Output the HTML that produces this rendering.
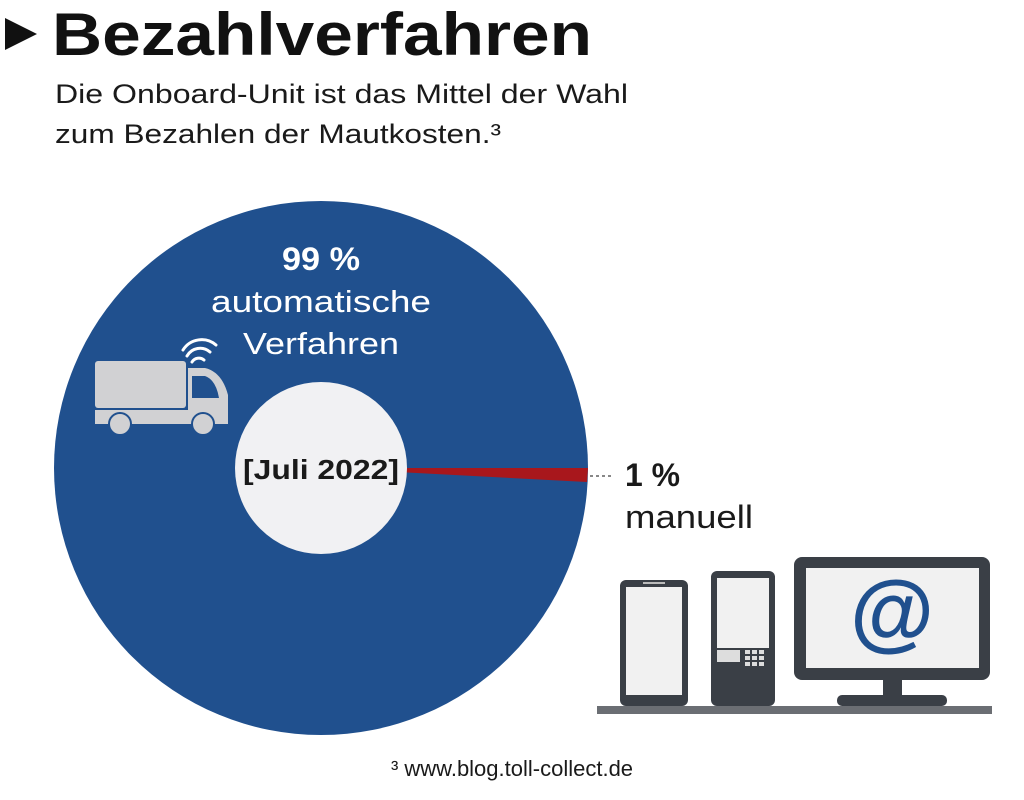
<!DOCTYPE html>
<html><head><meta charset="utf-8"><style>
body{margin:0;width:1024px;height:800px;background:#fff;overflow:hidden;font-family:"Liberation Sans",sans-serif;}
</style></head><body>
<svg width="1024" height="800" xmlns="http://www.w3.org/2000/svg" style="position:absolute;left:0;top:0">
<polygon points="5,18 37,34 5,50" fill="#111"/>
<text x="52" y="55" font-family="Liberation Sans" font-weight="bold" font-size="60" fill="#111" textLength="540" lengthAdjust="spacingAndGlyphs">Bezahlverfahren</text>
<text x="55" y="103" font-family="Liberation Sans" font-size="27" fill="#1a1a1a" textLength="573" lengthAdjust="spacingAndGlyphs">Die Onboard-Unit ist das Mittel der Wahl</text>
<text x="55" y="143" font-family="Liberation Sans" font-size="27" fill="#1a1a1a" textLength="446" lengthAdjust="spacingAndGlyphs">zum Bezahlen der Mautkosten.³</text>
<circle cx="321" cy="468" r="267" fill="#20508e"/>
<polygon points="321,468 588,468 587,482" fill="#a8171c"/>
<circle cx="321" cy="468" r="86" fill="#f1f1f3"/>
<text x="321" y="479" text-anchor="middle" font-family="Liberation Sans" font-weight="bold" font-size="28" fill="#1a1a1a" textLength="156" lengthAdjust="spacingAndGlyphs">[Juli 2022]</text>
<text x="321" y="270" text-anchor="middle" font-weight="bold" font-size="32" fill="#fff" textLength="78" lengthAdjust="spacingAndGlyphs">99 %</text>
<text x="321" y="312" text-anchor="middle" font-size="31" fill="#fff" textLength="220" lengthAdjust="spacingAndGlyphs">automatische</text>
<text x="321" y="354" text-anchor="middle" font-size="31" fill="#fff" textLength="156" lengthAdjust="spacingAndGlyphs">Verfahren</text>
<line x1="590" y1="476" x2="612" y2="476" stroke="#888" stroke-width="2" stroke-dasharray="3,3"/>
<text x="625" y="486" font-weight="bold" font-size="32" fill="#1a1a1a" textLength="55" lengthAdjust="spacingAndGlyphs">1 %</text>
<text x="625" y="528" font-size="32" fill="#1a1a1a" textLength="128" lengthAdjust="spacingAndGlyphs">manuell</text>
<!-- truck -->
<rect x="95" y="361" width="91" height="47" rx="3" fill="#d1d1d3"/>
<path d="M188,368 L205,368 Q222,372 228,395 L228,424 L188,424 Z" fill="#d1d1d3"/>
<path d="M192,376 L205,376 Q216,380 219,398 L192,398 Z" fill="#20508e"/>
<rect x="95" y="410" width="133" height="14" fill="#d1d1d3"/>
<line x1="95" y1="409" x2="188" y2="409" stroke="#20508e" stroke-width="2"/>
<circle cx="120" cy="424" r="11" fill="#d1d1d3" stroke="#20508e" stroke-width="2"/>
<circle cx="203" cy="424" r="11" fill="#d1d1d3" stroke="#20508e" stroke-width="2"/>
<g fill="none" stroke="#fff" stroke-width="3" stroke-linecap="round">
<path d="M192,362 A8,8 0 0 1 204,360"/>
<path d="M187,356 A15,15 0 0 1 210,352"/>
<path d="M183,350 A22,22 0 0 1 216,345"/>
</g>
<!-- devices -->
<rect x="620" y="580" width="68" height="126" rx="6" fill="#3a3f46"/>
<rect x="626" y="587" width="56" height="108" fill="#f1f1f1"/>
<rect x="643" y="582" width="22" height="2" fill="#bbb"/>
<rect x="711" y="571" width="64" height="135" rx="6" fill="#3a3f46"/>
<rect x="717" y="578" width="52" height="70" fill="#f1f1f1"/>
<rect x="717" y="650" width="23" height="12" fill="#ddd"/>
<g fill="#ddd">
<rect x="745" y="650" width="5" height="4"/><rect x="752" y="650" width="5" height="4"/><rect x="759" y="650" width="5" height="4"/>
<rect x="745" y="656" width="5" height="4"/><rect x="752" y="656" width="5" height="4"/><rect x="759" y="656" width="5" height="4"/>
<rect x="745" y="662" width="5" height="4"/><rect x="752" y="662" width="5" height="4"/><rect x="759" y="662" width="5" height="4"/>
</g>
<rect x="794" y="557" width="196" height="123" rx="8" fill="#3a3f46"/>
<rect x="806" y="568" width="173" height="100" fill="#f1f1f1"/>
<rect x="883" y="678" width="19" height="18" fill="#3a3f46"/>
<rect x="837" y="695" width="110" height="11" rx="5" fill="#3a3f46"/>
<text x="892" y="641" text-anchor="middle" font-size="86" font-weight="bold" fill="#20508e">@</text>
<rect x="597" y="706" width="395" height="8" fill="#6b6e73"/>
<text x="512" y="776" text-anchor="middle" font-size="22" fill="#1a1a1a">³ www.blog.toll-collect.de</text>
</svg>
</body></html>
